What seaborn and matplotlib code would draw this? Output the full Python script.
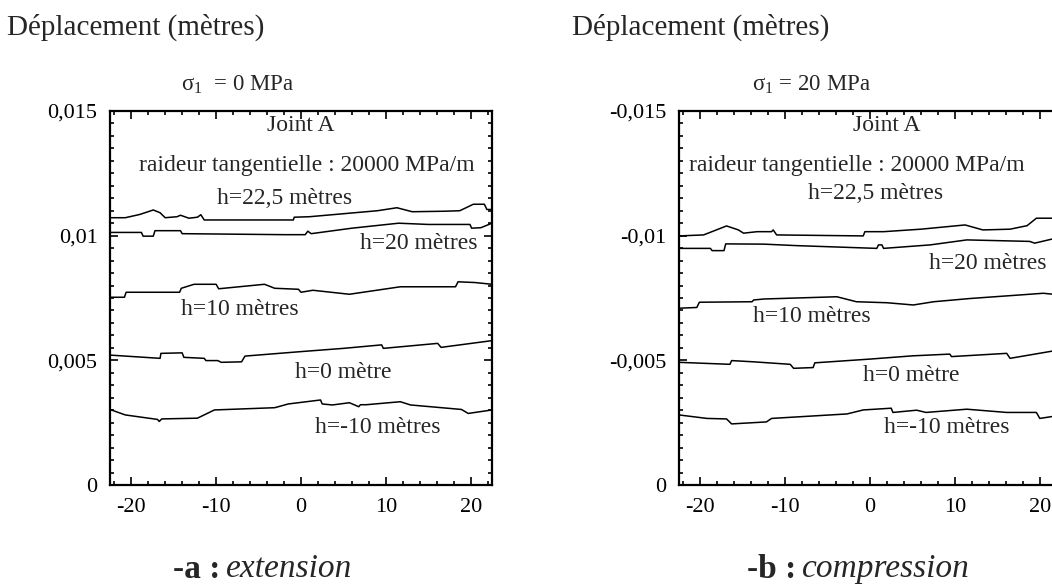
import matplotlib
matplotlib.use("Agg")
import matplotlib.pyplot as plt
from matplotlib.ticker import MultipleLocator
import seaborn as sns
import pandas as pd

# ---- data: joint A displacement profiles along the joint (x in metres) ----
ext_h225_x = [-22.5, -20.7, -19.0, -17.4, -16.6, -16.0, -14.6, -14.2, -13.2, -12.2, -11.8, -11.4, -6.0, -0.9, -0.8, 1.0, 5.0, 9.0, 11.3, 13.1, 16.9, 18.7, 20.3, 21.6, 21.9, 22.5]
ext_h225_y = [0.01072, 0.01072, 0.01085, 0.01103, 0.01092, 0.01072, 0.01076, 0.01082, 0.01070, 0.01074, 0.01084, 0.01063, 0.01063, 0.01063, 0.01074, 0.01076, 0.01088, 0.01100, 0.01112, 0.01096, 0.01098, 0.01100, 0.01126, 0.01126, 0.01105, 0.01105]
ext_h20_x = [-22.5, -18.8, -18.6, -17.4, -17.2, -14.2, -14.0, -8.0, -2.0, 0.5, 0.8, 1.2, 6.0, 11.5, 15.0, 19.9, 20.1, 21.2, 22.5]
ext_h20_y = [0.01013, 0.01013, 0.00998, 0.00998, 0.01020, 0.01020, 0.01008, 0.01006, 0.01004, 0.01004, 0.01018, 0.01008, 0.01030, 0.01050, 0.01045, 0.01045, 0.01030, 0.01032, 0.01050]
ext_h10_x = [-22.5, -20.8, -20.6, -14.3, -14.1, -12.6, -10.0, -9.7, -4.3, -3.1, -0.3, 0.0, 1.4, 5.7, 11.7, 18.2, 18.5, 20.5, 22.5]
ext_h10_y = [0.00753, 0.00753, 0.00773, 0.00773, 0.00789, 0.00805, 0.00805, 0.00787, 0.00805, 0.00789, 0.00785, 0.00773, 0.00781, 0.00765, 0.00795, 0.00795, 0.00815, 0.00812, 0.00805]
ext_h0_x = [-22.5, -16.6, -16.5, -14.0, -13.8, -11.4, -11.2, -9.8, -9.4, -7.0, -6.6, 0.0, 5.0, 9.5, 9.7, 16.1, 16.5, 22.5]
ext_h0_y = [0.00521, 0.00508, 0.00528, 0.00530, 0.00512, 0.00508, 0.00499, 0.00499, 0.00492, 0.00494, 0.00517, 0.00535, 0.00548, 0.00562, 0.00548, 0.00568, 0.00552, 0.00579]
ext_hm10_x = [-22.5, -20.7, -16.9, -16.7, -16.4, -12.2, -10.2, -3.1, -1.5, 2.3, 2.5, 3.7, 5.7, 6.8, 7.0, 7.7, 11.7, 12.9, 18.9, 19.7, 22.5]
ext_hm10_y = [0.00303, 0.00281, 0.00263, 0.00255, 0.00265, 0.00268, 0.00301, 0.00310, 0.00325, 0.00341, 0.00325, 0.00321, 0.00330, 0.00314, 0.00322, 0.00322, 0.00334, 0.00321, 0.00303, 0.00287, 0.00301]

cmp_h225_x = [-22.5, -19.6, -16.9, -15.5, -14.9, -13.3, -11.6, -11.4, -11.0, -6.0, -0.8, -0.6, 1.6, 6.0, 11.2, 13.3, 16.5, 18.5, 19.6, 22.5]
cmp_h225_y = [-0.00999, -0.01003, -0.01039, -0.01023, -0.01010, -0.01016, -0.01016, -0.01023, -0.01003, -0.01001, -0.00999, -0.01016, -0.01016, -0.01026, -0.01043, -0.01023, -0.01026, -0.01040, -0.01070, -0.01070]
cmp_h20_x = [-22.5, -18.8, -18.6, -17.2, -17.0, -12.5, -8.6, 0.8, 1.0, 1.4, 1.6, 7.1, 11.4, 18.8, 19.4, 21.4, 22.5]
cmp_h20_y = [-0.00949, -0.00949, -0.00940, -0.00940, -0.00967, -0.00966, -0.00960, -0.00949, -0.00963, -0.00963, -0.00949, -0.00963, -0.00983, -0.00977, -0.00970, -0.00986, -0.00990]
cmp_h10_x = [-22.5, -20.4, -20.1, -13.9, -13.7, -12.5, -3.9, -1.6, 2.0, 5.1, 7.5, 11.8, 18.8, 20.4, 22.5]
cmp_h10_y = [-0.00709, -0.00712, -0.00733, -0.00735, -0.00742, -0.00746, -0.00755, -0.00735, -0.00731, -0.00722, -0.00735, -0.00748, -0.00765, -0.00769, -0.00762]
cmp_h0_x = [-22.5, -16.5, -16.3, -13.7, -9.4, -9.0, -6.7, -6.5, 0.0, 5.0, 9.4, 9.6, 16.1, 16.5, 22.5]
cmp_h0_y = [-0.00492, -0.00484, -0.00499, -0.00494, -0.00484, -0.00468, -0.00471, -0.00490, -0.00505, -0.00518, -0.00525, -0.00515, -0.00528, -0.00508, -0.00543]
cmp_hm10_x = [-22.5, -19.2, -16.9, -16.3, -12.2, -11.6, -2.7, -0.8, 2.5, 2.7, 5.5, 6.6, 11.4, 16.1, 19.6, 20.0, 22.5]
cmp_hm10_y = [-0.00281, -0.00267, -0.00265, -0.00245, -0.00253, -0.00267, -0.00285, -0.00301, -0.00308, -0.00291, -0.00300, -0.00291, -0.00304, -0.00291, -0.00291, -0.00267, -0.00280]

x_ticks = [-20, -10, 0, 10, 20]
x_labels = ["-20", "-10", "0", "10", "20"]
ext_y_ticks = [0, 0.005, 0.01, 0.015]
ext_y_labels = ["0", "0,005", "0,01", "0,015"]
cmp_y_ticks = [0, -0.005, -0.01, -0.015]
cmp_y_labels = ["0", "-0,005", "-0,01", "-0,015"]

curve_labels = ["h=22,5 mètres", "h=20 mètres", "h=10 mètres", "h=0 mètre", "h=-10 mètres"]
ext_label_pos = [(-1.9, 0.01151), (13.85, 0.00967), (-7.2, 0.00702), (5.0, 0.00453), (9.1, 0.00229)]
cmp_label_pos = [(0.6, -0.01171), (13.9, -0.00890), (-6.9, -0.00674), (4.9, -0.00441), (9.1, -0.00229)]

sns.set_style("ticks")
plt.rcParams["font.family"] = ["Liberation Serif", "DejaVu Serif"]
plt.rcParams["mathtext.fontset"] = "custom"
plt.rcParams["mathtext.rm"] = "Liberation Serif"
plt.rcParams["mathtext.it"] = "Liberation Serif:italic"
plt.rcParams["mathtext.bf"] = "Liberation Serif:bold"

fig = plt.figure(figsize=(10.52, 5.88), dpi=100)
fig.patch.set_facecolor("white")

ax_ext = fig.add_axes([110 / 1052, 103 / 588, 382 / 1052, 374 / 588])
ax_cmp = fig.add_axes([679 / 1052, 103 / 588, 382 / 1052, 374 / 588])


def draw_panel(ax, series, y_ticks, y_labels, ylim, label_pos, joint_x, stiff_x):
    for (xs, ys) in series:
        df = pd.DataFrame({"x": xs, "y": ys})
        sns.lineplot(data=df, x="x", y="y", ax=ax, color="black", lw=1.1,
                     estimator=None, sort=False)
    ax.set_xlim(-22.5, 22.5)
    ax.set_ylim(*ylim)
    ax.set_xticks(x_ticks)
    ax.set_xticklabels(x_labels)
    ax.set_yticks(y_ticks)
    ax.set_yticklabels(y_labels)
    ax.xaxis.set_minor_locator(MultipleLocator(2))
    ax.yaxis.set_minor_locator(MultipleLocator(0.0005))
    ax.tick_params(which="both", direction="in", top=True, right=True,
                   labelsize=16, colors="black", width=1.2)
    ax.tick_params(which="major", length=6)
    ax.tick_params(which="minor", length=3)
    ax.tick_params(axis="y", pad=9)
    ax.tick_params(axis="x", pad=9)
    ax.set_xlabel("")
    ax.set_ylabel("")
    for sp in ax.spines.values():
        sp.set_visible(True)
        sp.set_linewidth(1.6)
        sp.set_color("black")
    ax.text(joint_x, ylim[1] * 0.962, "Joint A", fontsize=17, ha="center", va="center")
    ax.text(stiff_x, ylim[1] * 0.855, "raideur tangentielle : 20000 MPa/m",
            fontsize=17, ha="center", va="center")
    for lab, (lx, ly) in zip(curve_labels, label_pos):
        ax.text(lx, ly, lab, fontsize=17, ha="center", va="center")


draw_panel(ax_ext,
           [(ext_h225_x, ext_h225_y), (ext_h20_x, ext_h20_y), (ext_h10_x, ext_h10_y),
            (ext_h0_x, ext_h0_y), (ext_hm10_x, ext_hm10_y)],
           ext_y_ticks, ext_y_labels, (0, 0.015), ext_label_pos, 0.0, 0.66)
draw_panel(ax_cmp,
           [(cmp_h225_x, cmp_h225_y), (cmp_h20_x, cmp_h20_y), (cmp_h10_x, cmp_h10_y),
            (cmp_h0_x, cmp_h0_y), (cmp_hm10_x, cmp_hm10_y)],
           cmp_y_ticks, cmp_y_labels, (0, -0.015), cmp_label_pos, 2.0, -1.5)

# headings above each panel
fig.text(7 / 1052, 1 - 27 / 588, "Déplacement (mètres)", fontsize=21, ha="left", va="center")
fig.text(572 / 1052, 1 - 27 / 588, "Déplacement (mètres)", fontsize=21, ha="left", va="center")
fig.text(238 / 1052, 1 - 85 / 588, r"$\mathrm{\sigma}_1$  = 0 MPa", fontsize=16.5, ha="center", va="center")
fig.text(811 / 1052, 1 - 85 / 588, r"$\mathrm{\sigma}_1$ = 20 MPa", fontsize=16.5, ha="center", va="center")

# captions
fig.text(220 / 1052, 1 - 569 / 588, "-a :", fontsize=24, fontweight="bold", ha="right", va="center")
fig.text(226 / 1052, 1 - 569 / 588, "extension", fontsize=24, fontstyle="italic", ha="left", va="center")
fig.text(796 / 1052, 1 - 569 / 588, "-b :", fontsize=24, fontweight="bold", ha="right", va="center")
fig.text(802 / 1052, 1 - 569 / 588, "compression", fontsize=24, fontstyle="italic", ha="left", va="center")

fig.savefig("out.png", dpi=100, facecolor="white")
